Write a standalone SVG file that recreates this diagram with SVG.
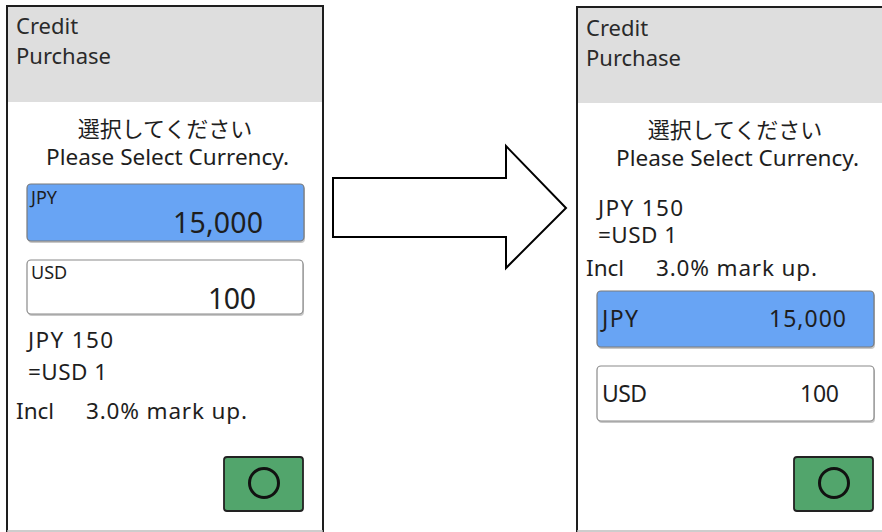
<svg xmlns="http://www.w3.org/2000/svg" width="882" height="532" viewBox="0 0 882 532">
<style>
.frame{fill:#ffffff;stroke:#1e1e1e;stroke-width:2}
.header{fill:#dedede}
.t{font-family:"Noto Sans","Noto Sans CJK JP",sans-serif;fill:#1e1e1e}
.hd{font-size:22px;fill:#2a2a2a}
.msg{font-size:22px;text-anchor:middle}
.body{font-size:22.5px}
.lbl{font-size:18px}
.sel{fill:#68a4f4;stroke:#7a7a7a;stroke-width:1.2}
.opt{fill:#ffffff;stroke:#8a8a8a;stroke-width:1.2}
.shadow{fill:#c8c8c8}
.ok{fill:#52a56c;stroke:#222222;stroke-width:1.8}
.okc{fill:none;stroke:#111111;stroke-width:3}
.edge{stroke:#bdbdbd;stroke-width:1.5}
</style>

<g id="screen-before">
  <rect class="frame" x="7" y="6" width="316" height="530"/>
  <rect class="header" x="8" y="7" width="314" height="95"/>
  <line class="edge" x1="7" y1="531" x2="323" y2="531"/>
  <text class="t hd" x="16" y="34">Credit</text>
  <text class="t hd" x="16" y="64">Purchase</text>
  <text class="t msg" x="165" y="137">選択してください</text>
  <text class="t msg" x="167.5" y="165" textLength="243" lengthAdjust="spacingAndGlyphs">Please Select Currency.</text>
  <rect class="shadow" x="28" y="186" width="277" height="57" rx="4"/>
  <rect class="sel" x="27" y="184" width="277" height="57" rx="4"/>
  <text class="t lbl" x="31" y="204">JPY</text>
  <text class="t" x="173" y="233" style="font-size:28.5px" textLength="90">15,000</text>
  <rect class="shadow" x="28" y="262" width="276" height="54" rx="4"/>
  <rect class="opt" x="27" y="260" width="276" height="54" rx="4"/>
  <text class="t lbl" x="31" y="279">USD</text>
  <text class="t" x="208" y="309" style="font-size:28.5px" textLength="48">100</text>
  <text class="t body" x="28" y="348" textLength="85">JPY 150</text>
  <text class="t body" x="28" y="380" textLength="79">=USD 1</text>
  <text class="t body" x="16" y="419" xml:space="preserve">Incl    <tspan x="86" textLength="161">3.0% mark up.</tspan></text>
  <rect class="ok" x="224" y="457" width="79" height="54" rx="3"/>
  <circle class="okc" cx="264" cy="483" r="14.5"/>
</g>

<g id="screen-after">
  <rect class="frame" x="577" y="7" width="320" height="530"/>
  <rect class="header" x="578" y="8" width="310" height="95"/>
  <line class="edge" x1="577" y1="531" x2="882" y2="531"/>
  <text class="t hd" x="586" y="36">Credit</text>
  <text class="t hd" x="586" y="66">Purchase</text>
  <text class="t msg" x="735" y="138">選択してください</text>
  <text class="t msg" x="737.5" y="166" textLength="243" lengthAdjust="spacingAndGlyphs">Please Select Currency.</text>
  <text class="t body" x="598" y="216" textLength="85">JPY 150</text>
  <text class="t body" x="598" y="243" textLength="79">=USD 1</text>
  <text class="t body" x="586" y="276" xml:space="preserve">Incl    <tspan x="656" textLength="161">3.0% mark up.</tspan></text>
  <rect class="shadow" x="598" y="293" width="277" height="56" rx="4"/>
  <rect class="sel" x="597" y="291" width="277" height="56" rx="4"/>
  <text class="t" x="602" y="327" style="font-size:23px" textLength="36">JPY</text>
  <text class="t" x="769" y="327" style="font-size:23px" textLength="77">15,000</text>
  <rect class="shadow" x="598" y="368" width="277" height="55" rx="4"/>
  <rect class="opt" x="597" y="366" width="277" height="55" rx="4"/>
  <text class="t" x="602" y="402" style="font-size:23px" textLength="45">USD</text>
  <text class="t" x="800" y="402" style="font-size:23px" textLength="39">100</text>
  <rect class="ok" x="794" y="457" width="79" height="54" rx="3"/>
  <circle class="okc" cx="834" cy="483" r="14.5"/>
</g>

<g id="connectors">
  <path d="M333,178 L506,178 L506,146 L566,208 L506,268 L506,237 L333,237 Z" fill="#ffffff" stroke="#000000" stroke-width="2" stroke-linejoin="miter"/>
</g>
</svg>
